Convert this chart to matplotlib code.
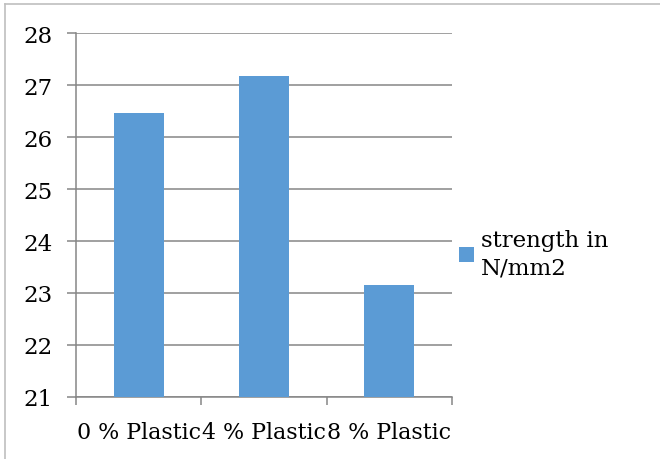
import matplotlib
matplotlib.use("Agg")
import matplotlib.pyplot as plt
from matplotlib.lines import Line2D
import numpy as np

categories = ["0 % Plastic", "4 % Plastic", "8 % Plastic"]
values = [26.47, 27.18, 23.15]
series_name = "strength in\nN/mm2"
yticks = [21, 22, 23, 24, 25, 26, 27, 28]

plt.rcParams['font.family'] = ['DejaVu Serif']
W, H = 660, 460
FS = 16.5
fig = plt.figure(figsize=(W/100, H/100), dpi=100)
ax = fig.add_axes([76/W, 1-398/H, (452-76)/W, (398-34)/H])

x = np.arange(len(categories))
bars = ax.bar(x, values, width=0.4, color="#5b9bd5", zorder=3, label=series_name)
ax.set_xlim(-0.5, len(categories)-0.5)
ax.set_ylim(21, 28)
ax.set_yticks(yticks)
ax.set_yticklabels([str(t) for t in yticks], fontsize=FS)
ax.yaxis.grid(True, color="#868686", linewidth=1.1, zorder=0)
for s in ["top", "right"]:
    ax.spines[s].set_visible(False)
for s in ["left", "bottom"]:
    ax.spines[s].set_color("#868686")
    ax.spines[s].set_linewidth(1.1)
ax.tick_params(axis="y", length=6.5, color="#868686", width=1.1, pad=10.5)
ax.set_xticks(np.arange(len(categories)+1)-0.5, minor=False)
ax.set_xticklabels([])
ax.tick_params(axis="x", length=6, color="#868686", width=1.1)
for i, c in enumerate(categories):
    ax.text(i, -0.095, c, transform=ax.get_xaxis_transform(), ha="center", va="center", fontsize=15.9)

leg = fig.legend(handles=[bars], labels=[series_name], loc="center left",
                 bbox_to_anchor=(459/W, 1-255/H), frameon=False, fontsize=FS,
                 borderaxespad=0, borderpad=0,
                 handlelength=0.65, handleheight=0.65, handletextpad=0.3, labelspacing=0.2)
for t in leg.get_texts():
    t.set_linespacing(1.3)

fig.add_artist(Line2D([5/W, 5/W], [0, 1-5/H], transform=fig.transFigure, color="#bfbfbf", linewidth=1.2))
fig.add_artist(Line2D([5/W, 1], [1-5/H, 1-5/H], transform=fig.transFigure, color="#bfbfbf", linewidth=1.2))

fig.savefig("out.png", dpi=100)
